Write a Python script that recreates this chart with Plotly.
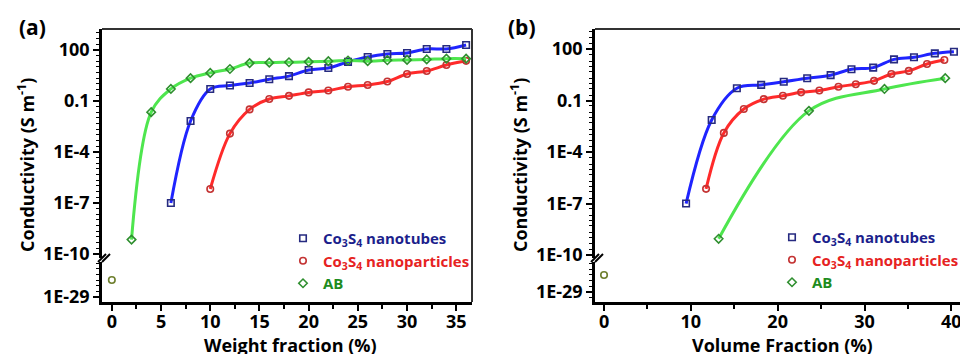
import plotly.graph_objects as go

W, H = 960, 354


def px(x):
    return x / W


def py(y):
    return 1 - y / H


# ---------------- Data: panel (a) weight fraction ----------------
a_tube_x = [6, 8, 10, 12, 14, 16, 18, 20, 22, 24, 26, 28, 30, 32, 34, 36]
a_tube_y = [1e-7, 0.0066, 0.51, 0.81, 1.15, 1.9, 2.9, 6.6, 8.7, 20, 39, 58, 67, 115, 115, 197]

a_part_x = [10, 12, 14, 16, 18, 20, 22, 24, 26, 28, 30, 32, 34, 36]
a_part_y = [6.6e-7, 0.0012, 0.032, 0.13, 0.2, 0.32, 0.41, 0.69, 0.87, 1.4, 3.9, 5.8, 13, 23]

a_ab_x = [2, 4, 6, 8, 10, 12, 14, 16, 18, 20, 22, 24, 26, 28, 30, 32, 34, 36]
a_ab_y = [7e-10, 0.022, 0.51, 2.2, 4.5, 7.6, 17, 18, 19, 20, 22, 24, 22, 25, 26, 28, 31, 31]

# ---------------- Data: panel (b) volume fraction ----------------
b_tube_x = [9.45, 12.4, 15.3, 18.1, 20.7, 23.4, 26.1, 28.5, 31.0, 33.4, 35.7, 38.1, 40.3]
b_tube_y = [1e-7, 0.0074, 0.52, 0.81, 1.25, 2.0, 3.0, 6.6, 8.2, 25, 33, 56, 69]

b_part_x = [11.75, 13.8, 16.1, 18.4, 20.6, 22.7, 24.8, 27.0, 29.0, 31.1, 33.1, 35.1, 37.2, 39.2]
b_part_y = [7.2e-7, 0.0013, 0.032, 0.12, 0.19, 0.3, 0.38, 0.64, 0.89, 1.4, 3.5, 5.3, 13.5, 23]

b_ab_x = [13.2, 23.6, 32.3, 39.3]
b_ab_y = [8.9e-10, 0.025, 0.47, 2.0]

# zero-filler point (shown below the axis break)
zero_x = [0]
zero_y = [1e-28]

upper_tickvals = [1e-10, 1e-7, 1e-4, 0.1, 100]
upper_ticktext = ["1E-10", "1E-7", "1E-4", "0.1", "100"]
lower_tickvals = [1e-29]
lower_ticktext = ["1E-29"]

names = {
    "tube": "Co<sub>3</sub>S<sub>4</sub> nanotubes",
    "part": "Co<sub>3</sub>S<sub>4</sub> nanoparticles",
    "ab": "AB",
}

BLUE_LINE, BLUE_MK, BLUE_TXT = "#1f24ff", "#262a80", "#1c1f8c"
RED_LINE, RED_MK, RED_TXT = "#ff2a2a", "#c43434", "#e62222"
GREEN_LINE, GREEN_MK, GREEN_TXT = "#4ee64e", "#2f8f2f", "#1e8c1e"
OLIVE = "#6e7f2e"

FONT = "Open Sans"

fig = go.Figure()


def add_series(x, y, xa, ya, lc, mc, tc, symbol, name, legend):
    fig.add_trace(go.Scatter(
        x=x, y=y, xaxis=xa, yaxis=ya, mode="lines",
        line=dict(color=lc, width=3, shape="spline", smoothing=1.0),
        showlegend=False, hoverinfo="skip"))
    fig.add_trace(go.Scatter(
        x=x, y=y, xaxis=xa, yaxis=ya, mode="markers",
        marker=dict(symbol=symbol, size=6.5, color=mc, line=dict(width=1.6, color=mc)),
        name=f'<span style="color:{tc}">{name}</span>', legend=legend))


# panel (a)
add_series(a_tube_x, a_tube_y, "x3", "y", BLUE_LINE, BLUE_MK, BLUE_TXT, "square-open", names["tube"], "legend")
add_series(a_part_x, a_part_y, "x3", "y", RED_LINE, RED_MK, RED_TXT, "circle-open", names["part"], "legend")
add_series(a_ab_x, a_ab_y, "x3", "y", GREEN_LINE, GREEN_MK, GREEN_TXT, "diamond-open", names["ab"], "legend")
fig.add_trace(go.Scatter(x=zero_x, y=zero_y, xaxis="x", yaxis="y2", mode="markers",
                         marker=dict(symbol="circle-open", size=6.5, color=OLIVE, line=dict(width=1.6, color=OLIVE)),
                         showlegend=False))

# panel (b)
add_series(b_tube_x, b_tube_y, "x4", "y3", BLUE_LINE, BLUE_MK, BLUE_TXT, "square-open", names["tube"], "legend2")
add_series(b_part_x, b_part_y, "x4", "y3", RED_LINE, RED_MK, RED_TXT, "circle-open", names["part"], "legend2")
add_series(b_ab_x, b_ab_y, "x4", "y3", GREEN_LINE, GREEN_MK, GREEN_TXT, "diamond-open", names["ab"], "legend2")
fig.add_trace(go.Scatter(x=zero_x, y=zero_y, xaxis="x2", yaxis="y4", mode="markers",
                         marker=dict(symbol="circle-open", size=6.5, color=OLIVE, line=dict(width=1.6, color=OLIVE)),
                         showlegend=False))

tickfont = dict(family=FONT, size=18, color="black", weight="bold")
axis_common = dict(showline=True, linewidth=2.5, linecolor="black", ticks="outside",
                   tickwidth=2, ticklen=6, tickcolor="black", showgrid=False, zeroline=False,
                   tickfont=tickfont, automargin=False, fixedrange=True)
ylog_minor = dict(ticks="outside", ticklen=3.5, tickwidth=1.3, tickcolor="black", dtick="D2", showgrid=False)

A_X = [px(102), px(472)]
B_X = [px(595), 1.0]
UP_Y = [py(258), py(29)]
LO_Y = [py(302), py(262)]

fig.update_layout(
    width=W, height=H, margin=dict(l=0, r=0, t=0, b=0, autoexpand=False),
    paper_bgcolor="white", plot_bgcolor="white",
    font=dict(family=FONT, color="black"),
    # panel (a)
    xaxis=dict(domain=A_X, anchor="y2", range=[-1.0, 36.6], tick0=0, dtick=5, ticklabelstandoff=-4,
               minor=dict(dtick=2.5, ticks="outside", ticklen=4, tickwidth=1.5, tickcolor="black", showgrid=False),
               **axis_common),
    xaxis3=dict(domain=A_X, anchor="y", range=[-1.0, 36.6], matches="x", visible=False, fixedrange=True),
    yaxis=dict(domain=UP_Y, anchor="x3", type="log", range=[-10.24, 3.235],
               tickmode="array", tickvals=upper_tickvals, ticktext=upper_ticktext,
               minor=ylog_minor, **axis_common),
    yaxis2=dict(domain=LO_Y, anchor="x", type="log", range=[-29.29, -26.94],
                tickmode="array", tickvals=lower_tickvals, ticktext=lower_ticktext,
                minor=ylog_minor, **axis_common),
    # panel (b)
    xaxis2=dict(domain=B_X, anchor="y4", range=[-1.04, 41.0], tick0=0, dtick=10, ticklabelstandoff=-4,
                ticklabeloverflow="allow",
                minor=dict(dtick=5, ticks="outside", ticklen=4, tickwidth=1.5, tickcolor="black", showgrid=False),
                **axis_common),
    xaxis4=dict(domain=B_X, anchor="y3", range=[-1.04, 41.0], matches="x2", visible=False, fixedrange=True),
    yaxis3=dict(domain=UP_Y, anchor="x4", type="log", range=[-10.17, 3.165],
                tickmode="array", tickvals=upper_tickvals, ticktext=upper_ticktext,
                minor=ylog_minor, **axis_common),
    yaxis4=dict(domain=LO_Y, anchor="x2", type="log", range=[-29.59, -27.24],
                tickmode="array", tickvals=lower_tickvals, ticktext=lower_ticktext,
                minor=ylog_minor, **axis_common),
    legend=dict(x=px(283), y=py(222), xanchor="left", yanchor="top", bgcolor="rgba(0,0,0,0)",
                font=dict(family=FONT, size=15, weight="bold"), tracegroupgap=0, itemwidth=30),
    legend2=dict(x=px(772), y=py(221), xanchor="left", yanchor="top", bgcolor="rgba(0,0,0,0)",
                 font=dict(family=FONT, size=15, weight="bold"), tracegroupgap=0, itemwidth=30),
    showlegend=True,
)

# frame lines (top / right) and axis-break marks
frame = dict(color="#333333", width=2)
shapes = [
    dict(type="line", xref="paper", yref="paper", x0=px(102), x1=px(472), y0=py(29), y1=py(29), line=frame),
    dict(type="line", xref="paper", yref="paper", x0=px(472), x1=px(472), y0=py(29), y1=py(302), line=frame),
    dict(type="line", xref="paper", yref="paper", x0=px(595), x1=1.0, y0=py(29), y1=py(29), line=frame),
]
for ax in (102, 595):
    for dx in (0, 4):
        shapes.append(dict(type="line", xref="paper", yref="paper",
                           x0=px(ax - 4 + dx), y0=py(262), x1=px(ax + 4 + dx), y1=py(254),
                           line=dict(color="black", width=2)))
fig.update_layout(shapes=shapes)

lab = dict(family=FONT, size=18, color="black", weight="bold")
annotations = [
    dict(text="(a)", x=px(32), y=py(27), font=dict(family=FONT, size=21, color="black", weight="bold")),
    dict(text="(b)", x=px(522), y=py(27), font=dict(family=FONT, size=21, color="black", weight="bold")),
    dict(text="Conductivity (S m<sup>-1</sup>)", x=px(26), y=py(165), textangle=-90, font=lab),
    dict(text="Conductivity (S m<sup>-1</sup>)", x=px(519), y=py(165), textangle=-90, font=lab),
    dict(text="Weight fraction (%)", x=px(290), y=py(345), font=lab),
    dict(text="Volume Fraction (%)", x=px(782), y=py(345), font=lab),
]
for a in annotations:
    a.update(xref="paper", yref="paper", showarrow=False, xanchor="center", yanchor="middle")
fig.update_layout(annotations=annotations)

fig.write_html("out.html")
